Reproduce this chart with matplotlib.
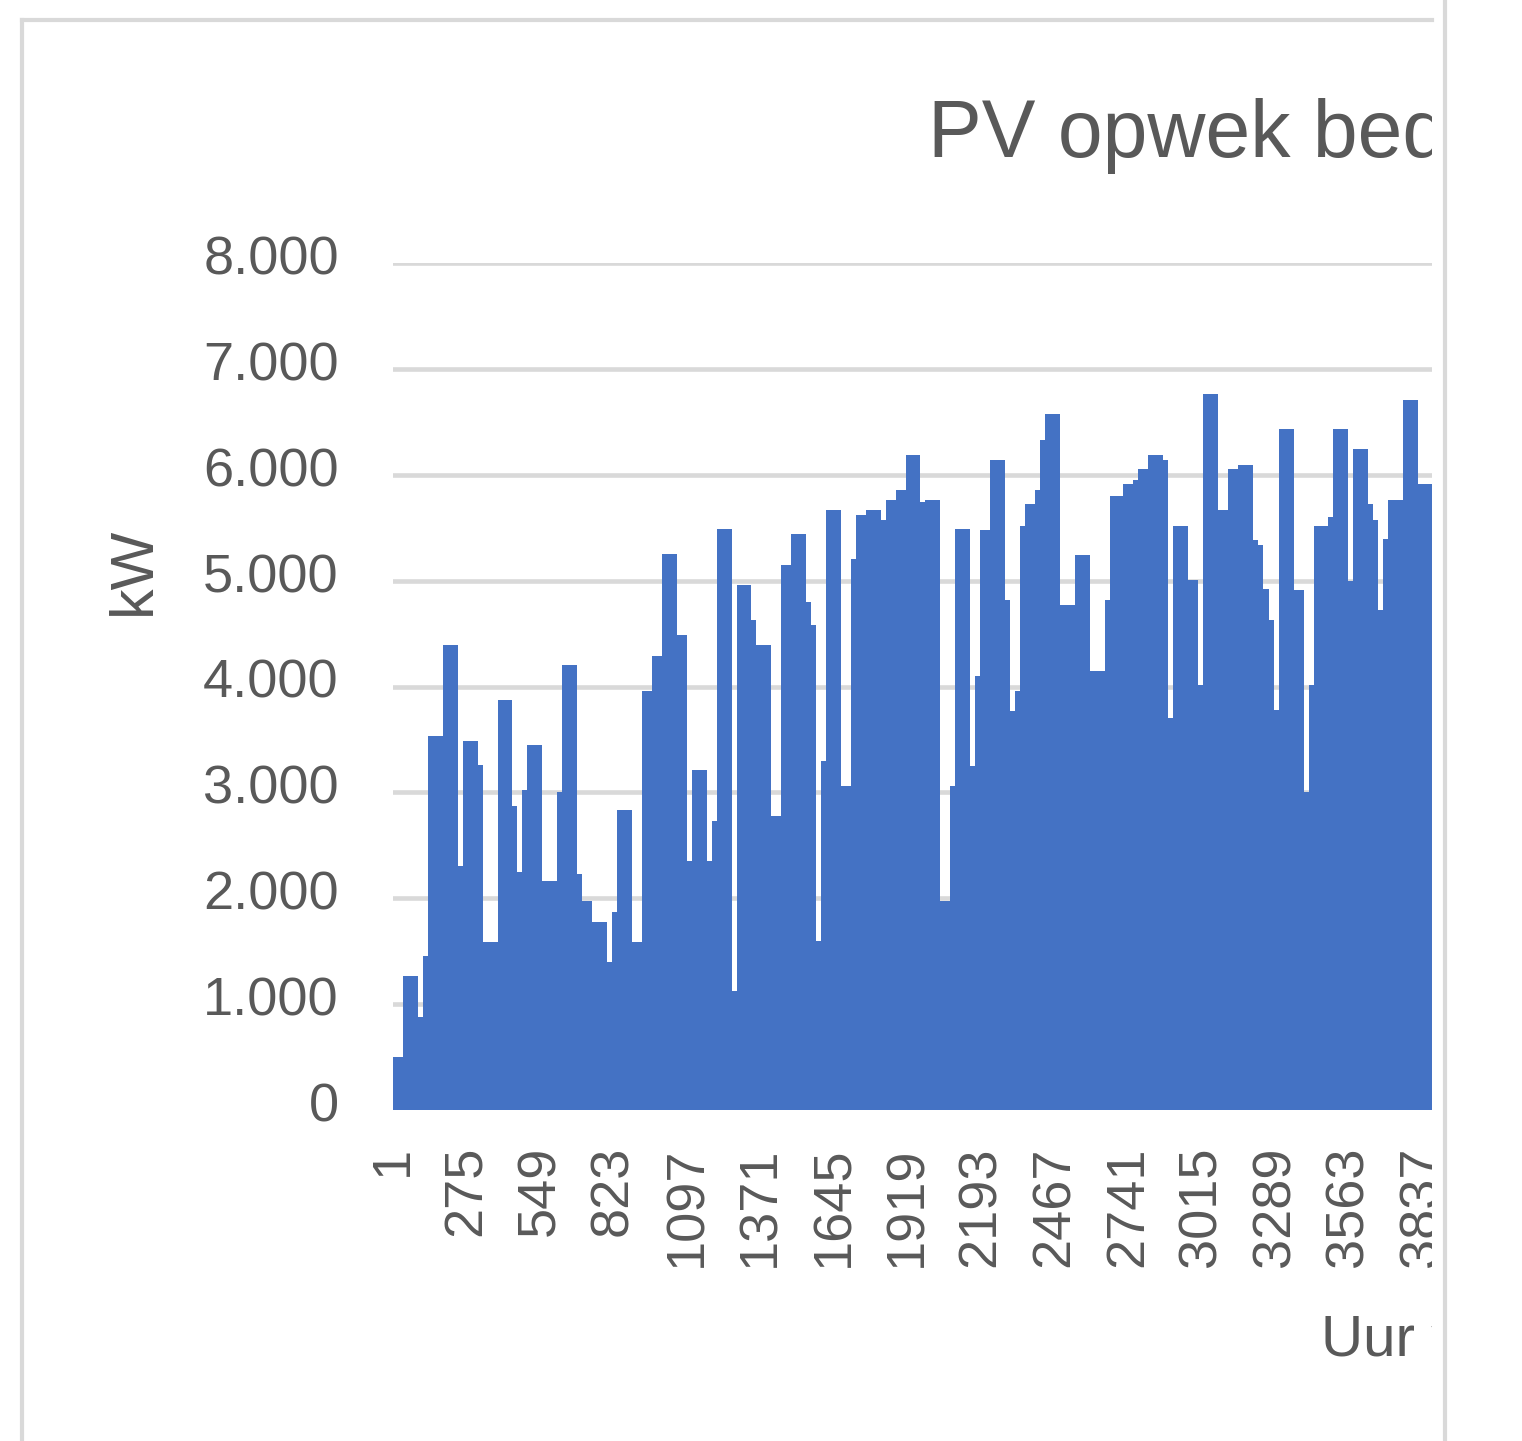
import matplotlib.pyplot as plt
from matplotlib.lines import Line2D
from matplotlib.transforms import Bbox, TransformedBbox, ScaledTranslation

# start hour of each visible step and the peak (kW) over that step
uur = [1, 38, 94, 113, 131, 187, 243, 262, 318, 336,
       392, 445, 463, 482, 500, 556, 612, 631, 687, 705,
       743, 799, 817, 836, 892, 929, 966, 1004, 1059, 1097,
       1115, 1171, 1190, 1209, 1264, 1283, 1335, 1354, 1410, 1447,
       1484, 1540, 1559, 1578, 1596, 1615, 1671, 1708, 1727, 1764,
       1820, 1839, 1876, 1913, 1965, 1984, 2040, 2077, 2096, 2152,
       2170, 2189, 2226, 2282, 2301, 2319, 2338, 2357, 2394, 2413,
       2431, 2487, 2543, 2599, 2655, 2673, 2722, 2759, 2778, 2815,
       2871, 2889, 2908, 2964, 3001, 3020, 3076, 3113, 3150, 3206,
       3225, 3243, 3266, 3284, 3303, 3359, 3396, 3415, 3434, 3486,
       3504, 3560, 3579, 3635, 3653, 3672, 3691, 3709, 3765, 3821]
piek = [500, 1270, 880, 1450, 3530, 4390, 2300, 3485, 3260, 1590,
        3870, 2870, 2250, 3020, 3450, 2160, 3000, 4200, 2230, 1970,
        1780, 1400, 1870, 2830, 1590, 3960, 4290, 5250, 4490, 2350,
        3210, 2350, 2730, 5490, 1120, 4960, 4630, 4390, 2780, 5150,
        5440, 4800, 4580, 1600, 3300, 5670, 3060, 5200, 5620, 5670,
        5570, 5760, 5860, 6190, 5740, 5760, 1970, 3060, 5490, 3250,
        4100, 5480, 6140, 4820, 3770, 3960, 5520, 5720, 5860, 6330,
        6570, 4770, 5240, 4150, 4820, 5800, 5910, 5950, 6050, 6190,
        6140, 3700, 5520, 5010, 4010, 6760, 5670, 6050, 6090, 5380,
        5340, 4920, 4630, 3780, 6430, 4910, 3000, 4010, 5520, 5600,
        6430, 5000, 6240, 5720, 5570, 4720, 5390, 5760, 6710, 5910]
laatste_uur = 3874  # right edge of the visible part

x_ticks = [1, 275, 549, 823, 1097, 1371, 1645, 1919, 2193, 2467,
           2741, 3015, 3289, 3563, 3837]
y_ticks = [0, 1000, 2000, 3000, 4000, 5000, 6000, 7000, 8000]
y_labels = ['0', '1.000', '2.000', '3.000', '4.000', '5.000', '6.000', '7.000', '8.000']

W, H = 1522, 1441
blauw = '#4472C4'
tekst = '#595959'
grijs = '#d9d9d9'

plt.rcParams['font.family'] = ['Liberation Sans', 'DejaVu Sans']

fig = plt.figure(figsize=(W / 100, H / 100), dpi=100)
ax = fig.add_axes([393 / W, 1 - 1110 / H, (1432 - 393) / W, (1110 - 263) / H])

ax.stairs(piek, uur + [laatste_uur], fill=True, color=blauw, baseline=0, zorder=2)

ax.set_xlim(1, laatste_uur)
ax.set_ylim(0, 8000)
ax.set_yticks(y_ticks, y_labels)
ax.set_xticks(x_ticks, [str(t) for t in x_ticks])
ax.grid(axis='y', color=grijs, linewidth=3.3, zorder=0)
ax.set_axisbelow(True)
for s in ax.spines.values():
    s.set_visible(False)
ax.tick_params(axis='y', length=0, pad=39, labelsize=39, labelcolor=tekst)
ax.tick_params(axis='x', length=0, pad=26, labelsize=39, labelcolor=tekst, labelrotation=90)

# y labels sit a little above their gridline in the original
omhoog = ScaledTranslation(0, 0.08, fig.dpi_scale_trans)
for lbl in ax.get_yticklabels():
    lbl.set_transform(lbl.get_transform() + omhoog)

ax.set_ylabel('kW', fontsize=44, color=tekst)
ax.yaxis.set_label_coords((134 - 393) / 1039, (1110 - 571) / 847)
ax.yaxis.label.set(va='center', ha='center')

# the screenshot is cut off at x = 1432
knip = TransformedBbox(Bbox([[0, 0], [1432 / W, 1]]), fig.transFigure)

titel = fig.text(928 / W, 1 - 157 / H, 'PV opwek bedrijventerrein', fontsize=58,
                 color=tekst, ha='left', va='baseline')
titel.set_clip_box(knip)
titel.set_clip_on(True)

xlab = fig.text(1321 / W, 1 - 1356 / H, 'Uur van het jaar', fontsize=42,
                color=tekst, ha='left', va='baseline')
xlab.set_clip_box(knip)
xlab.set_clip_on(True)

for lbl in ax.get_xticklabels():
    lbl.set_clip_box(knip)
    lbl.set_clip_on(True)

# chart border and sheet line
fig.add_artist(Line2D([22 / W, 22 / W], [0, 1 - 20 / H], color=grijs, linewidth=3))
fig.add_artist(Line2D([22 / W, 1432 / W], [1 - 20 / H, 1 - 20 / H], color=grijs, linewidth=3))
fig.add_artist(Line2D([1445 / W, 1445 / W], [0, 1], color=grijs, linewidth=3))

fig.savefig('out.png', dpi=100, facecolor='white')
